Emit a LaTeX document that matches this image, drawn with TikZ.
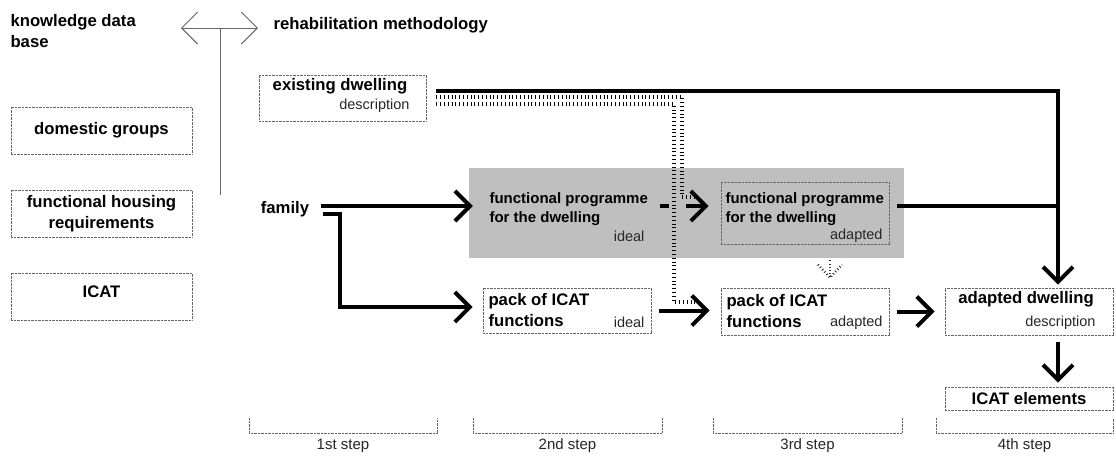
\documentclass[tikz,border=0pt]{standalone}
\usepackage{fontspec}
\setmainfont{Liberation Sans}
\usetikzlibrary{arrows.meta,positioning,calc}

\begin{document}
\begin{tikzpicture}[x=1pt, y=-1pt,
    box/.style={draw=black!60, dash pattern=on 0.7pt off 0.7pt, line width=0.7pt, inner sep=0pt},
    head/.style={font=\fontsize{16.7}{21}\selectfont\bfseries},
    prog/.style={font=\fontsize{15}{19}\selectfont\bfseries, align=left},
    sub/.style={font=\fontsize{14.5}{16}\selectfont, text=black!85},
    flow/.style={line width=4pt, -{Straight Barb[length=15pt,width=30pt]}},
    link/.style={line width=4pt},
    rail/.style={draw=black, line width=3.5pt, dash pattern=on 1pt off 2.8pt},
    spark/.style={draw=black!80, line width=2.5pt, dash pattern=on 0.9pt off 2.3pt},
    stepmark/.style={draw=black!60, dash pattern=on 0.7pt off 0.7pt, line width=0.7pt},
    stepname/.style={font=\fontsize{15}{17}\selectfont, text=black!85},
    ]
    \useasboundingbox (0,0) rectangle (1116,456);

    % headings and the split between the two halves
    \node[head, align=left, anchor=north west] (kdb) at (7,11) {knowledge data\\base};
    \node[head, anchor=west] (rehab) at (270,25) {rehabilitation methodology};
    \coordinate (kbend) at (181,28);
    \coordinate (rmend) at (258,28);
    \coordinate (split) at (220,28);
    \coordinate (splitend) at (220,195);
    \draw[black!60, line width=0.9pt, {Straight Barb[length=16pt,width=32pt]}-{Straight Barb[length=16pt,width=32pt]}] (kbend) -- (rmend);
    \draw[black!60, line width=0.9pt] (split) -- (splitend);

    % knowledge data base
    \node[box, head, minimum width=181pt, minimum height=47pt] (groups) at (101.5,130.5) {domestic groups};
    \node[box, head, align=center, minimum width=181pt, minimum height=47pt] (needs) at (101.5,213.5) {functional housing\\requirements};
    \node[box, head, text depth=10pt, minimum width=181pt, minimum height=47pt] (icat) at (101.5,296.5) {ICAT};

    % existing dwelling and family
    \node[box, minimum width=167pt, minimum height=46pt] (exist) at (342.5,98) {};
    \node[head] (existT) at (340,86) {existing dwelling};
    \node[sub, anchor=east] (existS) at (413,106) {description};
    \node[head] (family) at (285,209) {family};

    % functional programmes
    \fill[black!25] (469,168) rectangle (904,258);
    \node[minimum width=168pt, minimum height=62pt, inner sep=0pt] (fpI) at (567,213) {};
    \node[prog, anchor=west] (fpIT) at (486,209.5) {functional programme\\for the dwelling};
    \node[sub, anchor=east] (fpIS) at (648,236) {ideal};
    \node[box, minimum width=168pt, minimum height=62pt] (fpA) at (805,213) {};
    \node[prog, anchor=west] (fpAT) at (722,209.5) {functional programme\\for the dwelling};
    \node[sub, anchor=east] (fpAS) at (886,236) {adapted};

    % ICAT functions
    \node[box, minimum width=168pt, minimum height=45pt] (packI) at (567,310.5) {};
    \node[head, align=left, anchor=west] (packIT) at (485,310.5) {pack of ICAT\\functions};
    \node[sub, anchor=east] (packIS) at (648,322) {ideal};
    \node[box, minimum width=168pt, minimum height=47pt] (packA) at (805,311.5) {};
    \node[head, align=left, anchor=west] (packAT) at (723,311) {pack of ICAT\\functions};
    \node[sub, anchor=east] (packAS) at (886,323) {adapted};

    % result
    \node[box, minimum width=168pt, minimum height=47pt] (adapted) at (1029,311.5) {};
    \node[head] (adaptedT) at (1026,299) {adapted dwelling};
    \node[sub, anchor=east] (adaptedS) at (1099,323) {description};
    \node[box, head, minimum width=168pt, minimum height=23pt] (icatE) at (1029,398.5) {ICAT elements};

    % main flow
    \draw[flow, shorten <=10pt, shorten >=3pt] ([yshift=7pt]exist.east) -| ([xshift=29pt]adapted.north);
    \draw[link, shorten <=8pt] ([yshift=7pt]fpA.east) -- ([xshift=29pt, yshift=7pt]fpA.east -| adapted.north);
    \draw[flow, shorten <=8pt, shorten >=10pt] ([yshift=3pt]family.east) -- ([yshift=7pt]fpI.west);
    \draw[flow, shorten >=10pt] ([shift={(10pt,-5pt)}]family.east) -- ++(17,0) |- ([yshift=3.5pt]packI.west);
    \draw[flow, shorten <=9pt, shorten >=12pt] ([yshift=7pt]fpI.east) -- ([yshift=7pt]fpA.west);
    \draw[flow, shorten <=8pt, shorten >=11pt] (packI.east) -- (packI.east -| packA.west);
    \draw[flow, shorten <=8pt, shorten >=10pt] (packA.east) -- (adapted.west);
    \draw[flow, shorten <=7pt, shorten >=4pt] ([xshift=29pt]adapted.south) -- ([xshift=29pt]icatE.north);

    % existing dwelling constraints
    \coordinate (railA) at (697,197);
    \coordinate (railB) at (697,302);
    \fill[black!25] (669,200) rectangle (686,212);
    \draw[rail] ([shift={(10pt,1pt)}]exist.east) -| ([xshift=-15pt]railA) -- (railA);
    \draw[rail] ([shift={(10pt,-6pt)}]exist.east) -| ([xshift=-23pt]railB) -- (railB);
    \draw[spark, shorten <=16pt, shorten >=10pt] ([xshift=25pt]fpA.south) -- ([xshift=25pt]packA.north);
    \draw[spark] ($([xshift=25pt]packA.north)+(-12,-23)$) -- ++(12,13) -- ++(12,-13);

    % steps
    \foreach \a/\b/\t [count=\i] in {249/437/1st, 473/662/2nd, 713/902/3rd, 936/1113/4th}{
      \draw[stepmark] (\a,418) -- (\a,433) -- (\b,433) -- (\b,418);
      \node[stepname] (step\i) at ({(\a+\b)/2},446) {\t\ step};
    }
\end{tikzpicture}
\end{document}
